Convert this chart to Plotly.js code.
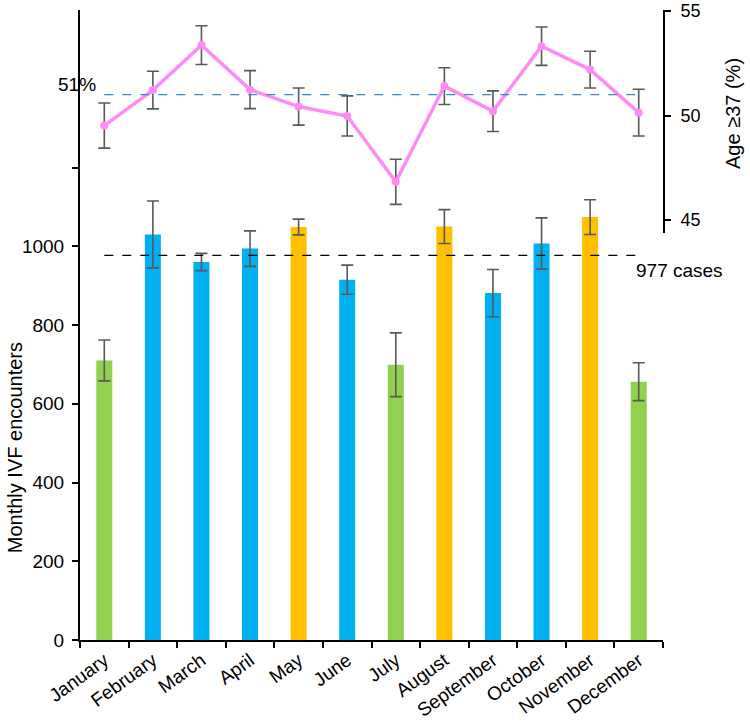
<!DOCTYPE html>
<html>
<head>
<meta charset="utf-8">
<script src="https://cdn.plot.ly/plotly-3.0.1.min.js"></script>
<style>
html,body{margin:0;padding:0;background:#fff}
#chart{width:750px;height:721px}
</style>
</head>
<body>
<div id="chart"></div>
<script>
// months and their values
let months=["January","February","March","April","May","June","July","August","September","October","November","December"]

let encounters=[710,1030,960,994,1049,915,699,1050,881,1007,1074,656]
let encountersErr=[52,85,22,45,20,37,81,43,60,65,44,48]
let barColors=["#92D050","#00B0F0","#00B0F0","#00B0F0","#FFC000","#00B0F0","#92D050","#FFC000","#00B0F0","#00B0F0","#FFC000","#92D050"]

let age37=[49.52,51.22,53.37,51.24,50.43,49.98,46.83,51.41,50.21,53.32,52.2,50.14]
let age37Err=[1.08,0.9,0.93,0.91,0.89,0.96,1.08,0.88,0.97,0.92,0.88,1.12]

let meanCases=977
let meanAge=51

let font="Liberation Sans, Arial, sans-serif"

let bars={
type:"bar",
x:months,
y:encounters,
width:0.33,
marker:{color:barColors},
error_y:{type:"data",array:encountersErr,visible:true,color:"#595959",thickness:1.6,width:6},
xaxis:"x",
yaxis:"y",
hoverinfo:"x+y"
}

let age={
type:"scatter",
mode:"lines+markers",
x:months,
y:age37,
line:{color:"#FF8CF5",width:3.5},
marker:{color:"#FF8CF5",size:8},
error_y:{type:"data",array:age37Err,visible:true,color:"#595959",thickness:1.6,width:6},
xaxis:"x",
yaxis:"y2"
}

let layout={
width:750,
height:721,
margin:{l:80,r:87,t:10,b:81},
paper_bgcolor:"#fff",
plot_bgcolor:"rgba(0,0,0,0)",
showlegend:false,
font:{family:font,size:18,color:"#000"},
xaxis:{
type:"category",
range:[-0.5,11.5],
showline:true,linecolor:"#000",linewidth:2,
ticks:"outside",tickson:"boundaries",ticklen:6,tickwidth:2,tickcolor:"#000",
tickangle:-36,
tickfont:{family:font,size:19},
showgrid:false,zeroline:false
},
yaxis:{
domain:[0,1],
range:[0,1600],
tickvals:[0,200,400,600,800,1000,1200],
ticktext:["0","200","400","600","800","1000",""],
showline:true,linecolor:"#000",linewidth:2,
ticks:"outside",ticklen:6,tickwidth:2,tickcolor:"#000",
ticklabelstandoff:4,
tickfont:{family:font,size:19},
showgrid:false,zeroline:false
},
yaxis2:{
domain:[0.646,1],
range:[44.38,55.05],
anchor:"x",
side:"right",
tickvals:[45,50,55],
showline:true,linecolor:"#000",linewidth:2,
ticks:"outside",ticklen:6,tickwidth:2,tickcolor:"#000",
ticklabelstandoff:6,
tickfont:{family:font,size:18},
showgrid:false,zeroline:false
},
shapes:[
{type:"line",xref:"x",yref:"y",x0:0,x1:11,y0:meanCases,y1:meanCases,line:{color:"#000",width:1.3,dash:"dash"}},
{type:"line",xref:"x",yref:"y2",x0:0,x1:11,y0:meanAge,y1:meanAge,line:{color:"#3D85C6",width:1.3,dash:"dash"}}
],
annotations:[
{xref:"x",yref:"y",x:10.9,y:meanCases,text:meanCases+" cases",showarrow:false,xanchor:"left",yanchor:"top",yshift:-3,font:{family:font,size:19}},
{xref:"paper",yref:"y2",x:0,y:meanAge,text:meanAge+"%",showarrow:false,xanchor:"center",yanchor:"bottom",xshift:-3,yshift:-2,font:{family:font,size:19}},
{xref:"paper",yref:"paper",x:-0.1115,y:0.306,text:"Monthly IVF encounters",textangle:-90,showarrow:false,xanchor:"center",yanchor:"middle",font:{family:font,size:20}},
{xref:"paper",yref:"paper",x:1.12,y:0.8365,text:"Age ≥37 (%)",textangle:-90,showarrow:false,xanchor:"center",yanchor:"middle",font:{family:font,size:20}}
]
}

Plotly.newPlot("chart",[bars,age],layout,{displayModeBar:false,staticPlot:true})
</script>
</body>
</html>
